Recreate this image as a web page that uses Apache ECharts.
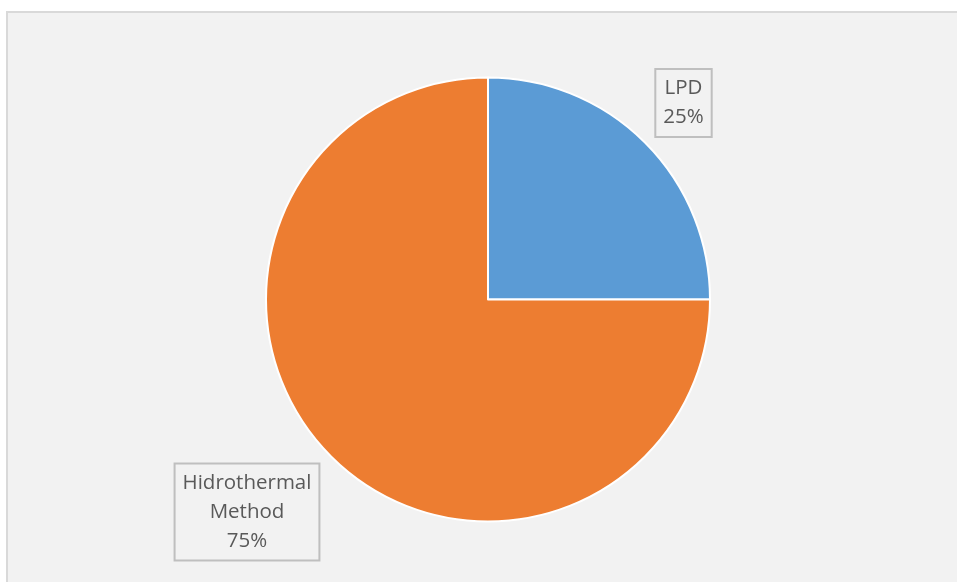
<!DOCTYPE html>
<html><head><meta charset="utf-8">
<script src="https://cdn.jsdelivr.net/npm/echarts@6/dist/echarts.min.js"></script>
<style>html,body{margin:0;padding:0;background:#fff}#c{width:957px;height:582px}</style>
</head><body><div id="c"></div>
<script>
const categories = ['LPD', 'Hidrothermal\nMethod'];
const values = [25, 75];
const colors = ['#5b9bd5', '#ed7d31'];

const chart = echarts.init(document.getElementById('c'));
const labelPos = [[683.5, 103], [247, 512]];
chart.setOption({
  backgroundColor: '#ffffff',
  graphic: [{
    type: 'rect', z: -10,
    shape: { x: 7, y: 12, width: 960, height: 580 },
    style: { fill: '#f2f2f2', stroke: '#d9d9d9', lineWidth: 2 }
  }],
  series: [{
    type: 'pie',
    center: [488, 299.5],
    radius: 222,
    startAngle: 90,
    clockwise: true,
    animation: false,
    data: categories.map((c, i) => ({ name: c, value: values[i], itemStyle: { color: colors[i] } })),
    itemStyle: { borderColor: '#ffffff', borderWidth: 2 },
    label: {
      show: true,
      formatter: p => p.name + '\n' + Math.round(p.percent) + '%',
      color: '#595959',
      fontSize: 20.5,
      lineHeight: 29,
      fontFamily: 'Open Sans',
      backgroundColor: '#f2f2f2',
      borderColor: '#bfbfbf',
      borderWidth: 2,
      padding: [4, 7, 4, 7],
      align: 'center'
    },
    labelLine: { show: false },
    labelLayout: p => ({ x: labelPos[p.dataIndex][0], y: labelPos[p.dataIndex][1], align: 'center', verticalAlign: 'middle' }),
    emphasis: { disabled: true }
  }]
});
</script></body></html>
